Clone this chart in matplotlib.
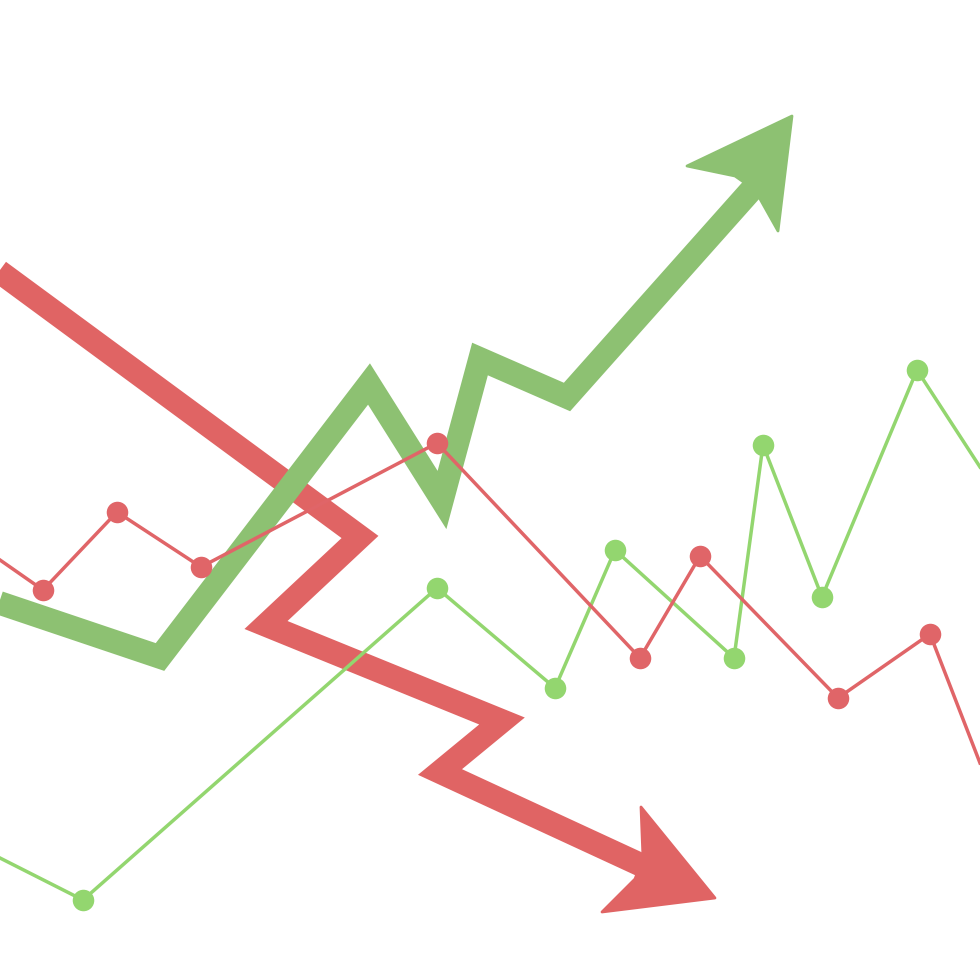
import matplotlib.pyplot as plt
from matplotlib.patches import Polygon

# pixel-space illustration, y grows downwards
up_shaft_x = [-30, 160, 369, 442, 480, 567, 770]
up_shaft_y = [593, 657, 384, 500, 359, 397, 169]
up_head_x = [792, 778, 755, 735, 687]
up_head_y = [116, 231, 190, 176, 166]

down_shaft_x = [-30, 360, 266, 502, 440, 652]
down_shaft_y = [250, 537, 625, 721, 772, 870]
down_head_x = [641, 715, 602, 635, 643]
down_head_y = [807, 898, 912, 879, 858]

green_x = [0, 83, 437, 555, 615, 734, 763, 822, 917, 980]
green_y = [858, 900, 588, 688, 550, 658, 445, 597, 370, 467]
red_x = [0, 43, 117, 201, 437, 640, 700, 838, 930, 980]
red_y = [560, 590, 512, 567, 443, 658, 556, 698, 634, 763]

THICK_GREEN = '#8DC172'
THICK_RED = '#E06464'
THIN_GREEN = '#93D66F'
THIN_RED = '#E06568'

fig = plt.figure(figsize=(9.8, 9.8), dpi=100)
ax = fig.add_axes([0, 0, 1, 1])
ax.set_xlim(0, 980)
ax.set_ylim(980, 0)
ax.axis('off')

# thick arrows: shaft as a fat polyline, head as a filled polygon
ax.plot(down_shaft_x, down_shaft_y, color=THICK_RED, linewidth=17,
        solid_joinstyle='miter', solid_capstyle='butt', zorder=1)
ax.add_patch(Polygon(list(zip(down_head_x, down_head_y)), closed=True,
                     facecolor=THICK_RED, edgecolor=THICK_RED,
                     linewidth=2, joinstyle='round', zorder=1))

ax.plot(up_shaft_x, up_shaft_y, color=THICK_GREEN, linewidth=17,
        solid_joinstyle='miter', solid_capstyle='butt', zorder=2)
ax.add_patch(Polygon(list(zip(up_head_x, up_head_y)), closed=True,
                     facecolor=THICK_GREEN, edgecolor=THICK_GREEN,
                     linewidth=2, joinstyle='round', zorder=2))

# thin series with round markers (end points run off the edges, no dots there)
ax.plot(green_x, green_y, color=THIN_GREEN, linewidth=2.5,
        marker='o', markersize=15.5, markeredgewidth=0,
        markevery=slice(1, -1), zorder=3)
ax.plot(red_x, red_y, color=THIN_RED, linewidth=2.5,
        marker='o', markersize=15.5, markeredgewidth=0,
        markevery=slice(1, -1), zorder=4)

fig.savefig('out.png', dpi=100, facecolor='white')
